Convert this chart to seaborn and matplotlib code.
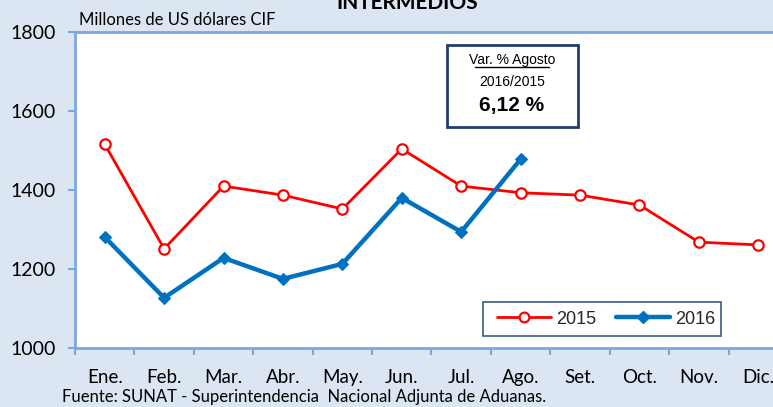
import matplotlib
matplotlib.use("Agg")
import matplotlib.pyplot as plt
import seaborn as sns
import pandas as pd
from matplotlib.patches import Rectangle
from matplotlib.lines import Line2D

months = ["Ene.", "Feb.", "Mar.", "Abr.", "May.", "Jun.", "Jul.", "Ago.",
          "Set.", "Oct.", "Nov.", "Dic."]
values_2015 = [1516, 1251, 1410, 1387, 1352, 1504, 1410, 1393, 1387, 1362, 1268, 1261]
values_2016 = [1281, 1127, 1228, 1175, 1213, 1380, 1294, 1478]
y_ticks = [1000, 1200, 1400, 1600, 1800]

sns.set_theme(style="white")
plt.rcParams["font.family"] = ["Lato", "DejaVu Sans"]

bg = "#DCE6F2"
spine_col = "#7EA6DE"
red = "#FF0000"
blue = "#0070C0"

fig = plt.figure(figsize=(7.73, 4.07), dpi=100, facecolor=bg)
ax = fig.add_axes([75 / 773, 1 - 348 / 407, 713 / 773, 316 / 407])
ax.set_facecolor("white")

df15 = pd.DataFrame({"x": range(len(values_2015)), "v": values_2015})
df16 = pd.DataFrame({"x": range(len(values_2016)), "v": values_2016})

sns.lineplot(data=df15, x="x", y="v", ax=ax, color=red, lw=2.0,
             marker="o", markersize=7.5, markerfacecolor="white",
             markeredgecolor=red, markeredgewidth=1.6, zorder=3)
sns.lineplot(data=df16, x="x", y="v", ax=ax, color=blue, lw=3.2,
             marker="D", markersize=6.5, markerfacecolor=blue,
             markeredgecolor=blue, zorder=4)

ax.set_xlim(-0.5, 11.5)
ax.set_ylim(1000, 1800)
ax.set_xlabel("")
ax.set_ylabel("")

ax.set_yticks(y_ticks)
ax.set_yticklabels([str(t) for t in y_ticks], fontsize=14, color="black")
ax.set_xticks(range(12))
ax.set_xticklabels(months, fontsize=13.5, color="black")
ax.set_xticks([i - 0.5 for i in range(13)], minor=True)
ax.tick_params(axis="x", which="major", length=0, pad=15)
ax.tick_params(axis="x", which="minor", length=5, width=1.5, color=spine_col,
               direction="out", bottom=True)
ax.tick_params(axis="y", which="major", length=5, width=1.5, color=spine_col,
               direction="out", left=True, pad=9)

for side in ["left", "bottom", "top", "right"]:
    ax.spines[side].set_color(spine_col)
    ax.spines[side].set_linewidth(2)
ax.grid(False)

# Title, partly above the figure edge
fig.text(407 / 773, 1 - 9 / 407, "INTERMEDIOS", ha="center", va="baseline",
         fontsize=15, fontweight="bold", color="black")
fig.text(79 / 773, 1 - 25 / 407, "Millones de US dólares CIF", ha="left",
         va="baseline", fontsize=12, color="black")
fig.text(62 / 773, 1 - 402 / 407,
         "Fuente: SUNAT - Superintendencia  Nacional Adjunta de Aduanas.",
         ha="left", va="baseline", fontsize=12, color="black")

# Variation box
fig.patches.append(Rectangle((447 / 773, 1 - 127 / 407), 131 / 773, 82 / 407,
                             transform=fig.transFigure, facecolor="white",
                             edgecolor="#1F3F6E", lw=2, zorder=5))
arial = ["Liberation Sans", "DejaVu Sans"]
fig.text(512 / 773, 1 - 64 / 407, "Var. % Agosto", ha="center", va="baseline",
         fontsize=10, family=arial, color="black", zorder=6)
fig.add_artist(Line2D([475 / 773, 549 / 773], [1 - 66.5 / 407, 1 - 66.5 / 407],
                      transform=fig.transFigure, color="black", lw=1, zorder=6))
fig.text(512 / 773, 1 - 82 / 407, "2016/2015", ha="center", va="center",
         fontsize=10, family=arial, color="black", zorder=6)
fig.text(512 / 773, 1 - 106 / 407, "6,12 %", ha="center", va="center",
         fontsize=15, fontweight="bold", family=arial, color="black", zorder=6)

# Legend: frame drawn separately, entries placed inside it
ax.add_patch(Rectangle((483 / 773, 1 - 336 / 407), 238 / 773, 34 / 407,
                       transform=fig.transFigure, facecolor="white",
                       edgecolor="#3A5A80", lw=1.2, zorder=6, clip_on=False))
handles = [
    Line2D([], [], color=red, lw=2.0, marker="o", markersize=7,
           markerfacecolor="white", markeredgecolor=red, markeredgewidth=1.6),
    Line2D([], [], color=blue, lw=3.2, marker="D", markersize=6,
           markerfacecolor=blue, markeredgecolor=blue),
]
leg = ax.legend(handles, ["2015", "2016"], loc="center left",
                bbox_to_anchor=(497 / 773, 1 - 336 / 407, 218 / 773, 34 / 407),
                bbox_transform=fig.transFigure, mode="expand", ncol=2,
                frameon=False, prop={"family": arial, "size": 13},
                handlelength=3.0, handletextpad=0.25, columnspacing=1.3,
                borderaxespad=0, borderpad=0.0)
leg.set_zorder(7)

fig.savefig("out.png", dpi=100, facecolor=bg)
